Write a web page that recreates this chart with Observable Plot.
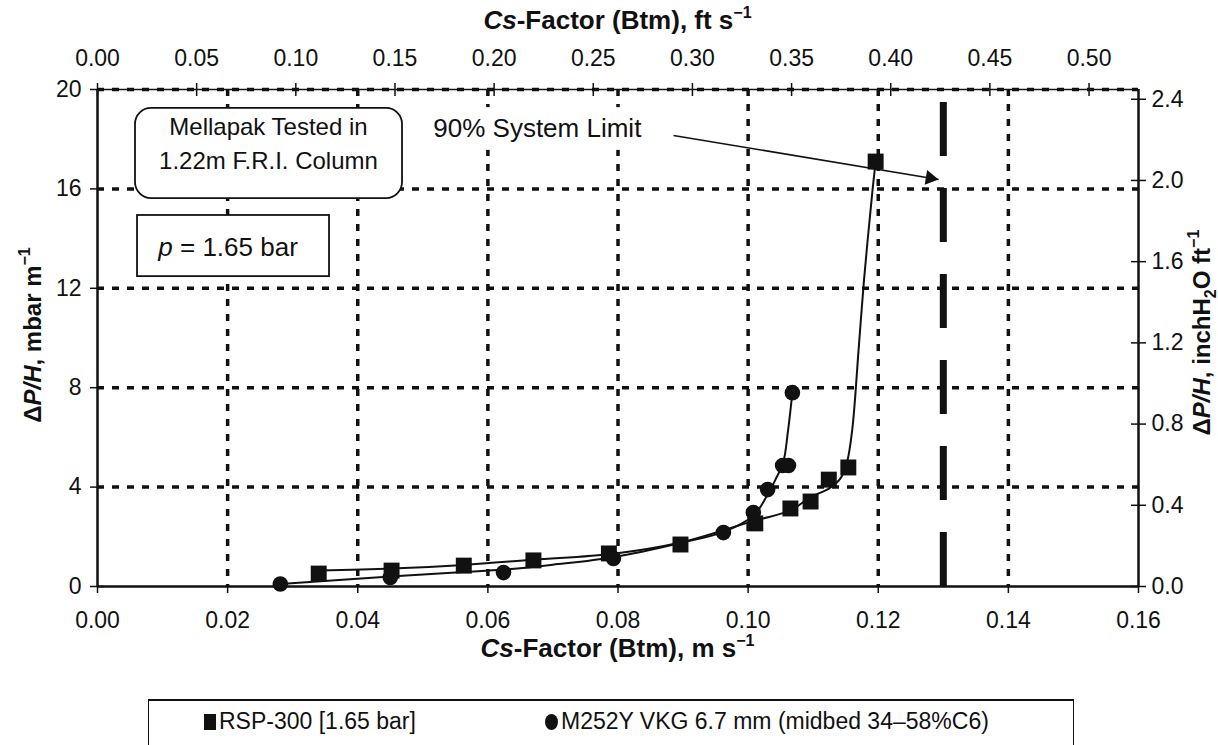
<!DOCTYPE html>
<html>
<head>
<meta charset="utf-8">
<script src="https://cdn.jsdelivr.net/npm/d3@7"></script>
<script src="https://cdn.jsdelivr.net/npm/@observablehq/plot@0.6"></script>
<style>
  body { margin: 0; background: #fff; font-family: "Liberation Sans", Arial, sans-serif; }
  #wrap { position: relative; width: 1218px; height: 745px; overflow: hidden; background: #fff; }
  #legend { position: absolute; left: 148px; top: 699px; width: 926px; height: 70px; box-sizing: border-box;
            border: 1.5px solid #111; border-top-width: 2px; font-size: 23px; color: #111; }
  #legend .item { position: absolute; top: 7px; white-space: nowrap; line-height: 26px; }
  #legend .sw { display: inline-block; background: #111; margin-right: 3px; vertical-align: -1px; }
</style>
</head>
<body>
<div id="wrap">
  <div id="chart"></div>
  <div id="legend"></div>
</div>
<script>
// ---------- data ----------
const xTicks = [0.00, 0.02, 0.04, 0.06, 0.08, 0.10, 0.12, 0.14, 0.16];
const yTicks = [0, 4, 8, 12, 16, 20];
const ftTicks = [0.00, 0.05, 0.10, 0.15, 0.20, 0.25, 0.30, 0.35, 0.40, 0.45, 0.50];
const inTicks = [0.0, 0.4, 0.8, 1.2, 1.6, 2.0, 2.4];
const gridX = [0.02, 0.04, 0.06, 0.08, 0.10, 0.12, 0.14];
const gridY = [4, 8, 12, 16, 20];
const M_PER_FT = 0.3048;          // m s-1 per ft s-1
const INH2O_PER_MBAR = 0.1224;    // inchH2O ft-1 per mbar m-1
const limitCs = [0.13];

const seriesNames = ["RSP-300 [1.65 bar]", "M252Y VKG 6.7 mm (midbed 34\u201358%C6)"];

// RSP-300 measured points
const rspCs = [0.0340, 0.0452, 0.0563, 0.0670, 0.0786, 0.0896, 0.1011, 0.1065, 0.1096, 0.1124, 0.1154, 0.1196];
const rspDP = [0.52, 0.64, 0.84, 1.05, 1.33, 1.69, 2.54, 3.14, 3.42, 4.30, 4.79, 17.1];
// RSP-300 fitted curve
const rspFitCs = [0.0340, 0.0452, 0.0563, 0.0670, 0.0793, 0.0896, 0.1010, 0.1065, 0.1096, 0.1124, 0.1142, 0.1152, 0.1160, 0.1170, 0.1178, 0.1191, 0.1196];
const rspFitDP = [0.64, 0.72, 0.87, 1.08, 1.32, 1.77, 2.65, 3.06, 3.60, 3.94, 4.35, 5.00, 6.30, 9.60, 12.3, 15.9, 17.1];

// M252Y measured points
const m252Cs = [0.0281, 0.0450, 0.0624, 0.0793, 0.0962, 0.1008, 0.1030, 0.1053, 0.1062, 0.1068];
const m252DP = [0.10, 0.36, 0.56, 1.13, 2.17, 2.98, 3.90, 4.87, 4.87, 7.80];
// M252Y fitted curve
const m252FitCs = [0.0281, 0.0450, 0.0563, 0.0624, 0.0700, 0.0793, 0.0896, 0.0962, 0.1008, 0.1030, 0.1042, 0.1054, 0.1061, 0.1068];
const m252FitDP = [0.10, 0.40, 0.58, 0.68, 0.88, 1.18, 1.75, 2.20, 2.85, 3.70, 4.30, 5.00, 6.20, 7.80];

// annotations (data coordinates)
const noteBoxes = [
  {x1: 0.00584, x2: 0.04688, y1: 15.61, y2: 19.24, rx: 16},
  {x1: 0.00615, x2: 0.03566, y1: 12.47, y2: 14.93, rx: 0}
];
const noteTexts = [
  {x: 0.02628, y: 18.47, text: "Mellapak Tested in", size: 24},
  {x: 0.02628, y: 17.12, text: "1.22m F.R.I. Column", size: 24},
  {x: 0.0676, y: 18.43, text: "90% System Limit", size: 26}
];
const limitTextBg = [{x1: 0.0505, x2: 0.0845, y1: 17.55, y2: 19.27}];
const pNote = {x: 0.02014, y: 13.64};
const arrowNote = [{x1: 0.08853, y1: 18.15, x2: 0.12927, y2: 16.38}];

// ---------- build ----------
const FONT = "'Liberation Sans', Arial, sans-serif";
const W = 1218, H = 690, ML = 97, MR = 80, MT = 89, MB = 104;
const plotW = W - ML - MR, plotH = H - MT - MB;

const rspPts = rspCs.map((c, i) => ({cs: c, dp: rspDP[i]}));
const rspFit = rspFitCs.map((c, i) => ({cs: c, dp: rspFitDP[i]}));
const m252Pts = m252Cs.map((c, i) => ({cs: c, dp: m252DP[i]}));
const m252Fit = m252FitCs.map((c, i) => ({cs: c, dp: m252FitDP[i]}));
const ftTicksM = ftTicks.map(v => v * M_PER_FT);
const inTicksMbar = inTicks.map(v => v / INH2O_PER_MBAR);

const a = arrowNote[0];
const angPx = Math.atan2((a.y1 - a.y2) * plotH / 20, (a.x2 - a.x1) * plotW / 0.16);
const triR = 5.5;
const triTip = 2 * Math.sqrt((Math.PI * triR * triR) / (3 * Math.sqrt(3)));

const dash = "7,8";
const TF = 23;
const plot = Plot.plot({
  width: W, height: H,
  marginLeft: ML, marginRight: MR, marginTop: MT, marginBottom: MB,
  x: {domain: [0, 0.16]},
  y: {domain: [0, 20]},
  style: {fontFamily: FONT, fontSize: TF + "px", color: "#111", background: "white"},
  marks: [
    // grid
    Plot.ruleX(gridX, {x: d => d, stroke: "#111", strokeWidth: 3.5, strokeDasharray: dash}),
    Plot.ruleY(gridY, {y: d => d, stroke: "#111", strokeWidth: 3.5, strokeDasharray: dash}),
    // frame
    Plot.ruleX([0, 0.16], {x: d => d, stroke: "#111", strokeWidth: 2.5}),
    Plot.ruleY([0], {y: d => d, stroke: "#111", strokeWidth: 2.5}),
    Plot.ruleY([20], {y: d => d, stroke: "#111", strokeWidth: 1.5}),
    // axes
    Plot.axisX(xTicks, {anchor: "bottom", tickSize: 7, tickPadding: 18, strokeWidth: 1.5, tickFormat: d => d.toFixed(2), label: null, fontSize: TF}),
    Plot.axisX(ftTicksM, {anchor: "top", tickSize: 7, tickPadding: 17, strokeWidth: 1.5, tickFormat: d => (d / M_PER_FT).toFixed(2), label: null, fontSize: TF}),
    Plot.axisY(yTicks, {anchor: "left", tickSize: 7, tickPadding: 9, strokeWidth: 1.5, tickFormat: d => String(d), label: null, fontSize: TF}),
    Plot.axisY(inTicksMbar, {anchor: "right", tickSize: 7, tickPadding: 6, strokeWidth: 1.5, tickFormat: d => (d * INH2O_PER_MBAR).toFixed(1), label: null, fontSize: TF}),
    // inward halves of crossing ticks
    Plot.ruleY(yTicks, {y: d => d, insetRight: plotW - 7, stroke: "#111", strokeWidth: 1.5}),
    Plot.ruleY(inTicksMbar, {y: d => d, insetLeft: plotW - 7, stroke: "#111", strokeWidth: 1.5}),
    Plot.ruleX(ftTicksM, {x: d => d, insetBottom: plotH - 7, stroke: "#111", strokeWidth: 1.5}),
    // 90% system limit
    Plot.ruleX(limitCs, {x: d => d, stroke: "#111", strokeWidth: 7, strokeDasharray: "54,32", strokeDashoffset: -13}),
    // annotation boxes
    Plot.rect(noteBoxes, {x1: "x1", x2: "x2", y1: "y1", y2: "y2", fill: "white", stroke: "#111", strokeWidth: 1.8, rx: 16, filter: d => d.rx > 0}),
    Plot.rect(noteBoxes, {x1: "x1", x2: "x2", y1: "y1", y2: "y2", fill: "white", stroke: "#111", strokeWidth: 1.8, filter: d => d.rx === 0}),
    Plot.rect(limitTextBg, {x1: "x1", x2: "x2", y1: "y1", y2: "y2", fill: "white"}),
    Plot.text(noteTexts.filter(d => d.size === 24), {x: "x", y: "y", text: "text", fontSize: 24, fill: "#111"}),
    Plot.text(noteTexts.filter(d => d.size === 26), {x: "x", y: "y", text: "text", fontSize: 26, fill: "#111"}),
    // fitted curves
    Plot.line(rspFit, {x: "cs", y: "dp", curve: "catmull-rom", stroke: "#111", strokeWidth: 2}),
    Plot.line(m252Fit, {x: "cs", y: "dp", curve: "catmull-rom", stroke: "#111", strokeWidth: 2}),
    // points
    Plot.dot(rspPts, {x: "cs", y: "dp", symbol: "square", r: 9, fill: "#111", stroke: "none"}),
    Plot.dot(m252Pts, {x: "cs", y: "dp", symbol: "circle", r: 7.8, fill: "#111", stroke: "none"}),
    // arrow
    Plot.link(arrowNote, {x1: "x1", y1: "y1", x2: "x2", y2: "y2", stroke: "#111", strokeWidth: 1.6}),
    Plot.dot(arrowNote, {x: "x2", y: "y2", symbol: "triangle", r: triR, fill: "#111", stroke: "none",
      rotate: 90 + angPx * 180 / Math.PI,
      dx: -triTip * Math.cos(angPx), dy: -triTip * Math.sin(angPx)})
  ]
});
document.getElementById("chart").appendChild(plot);

// ---------- rich text titles ----------
const svg = d3.select(plot);
const sx = plot.scale("x"), sy = plot.scale("y");
function richText(transform, parts, size, anchor = "middle", bold = true) {
  const t = svg.append("text")
    .attr("transform", transform)
    .attr("text-anchor", anchor)
    .attr("font-family", FONT)
    .attr("font-size", size)
    .attr("font-weight", bold ? "bold" : "normal")
    .attr("fill", "#111");
  parts.forEach(p => {
    const ts = t.append("tspan").text(p.t);
    if (p.i) ts.attr("font-style", "italic");
    if (p.size) ts.attr("font-size", p.size);
    if (p.dy) ts.attr("dy", p.dy);
  });
  return t;
}
const TS = 26;
richText(`translate(${sx.apply(0.08)},657)`, [
  {t: "Cs", i: true}, {t: "-Factor (Btm), m s"}, {t: "\u22121", size: 16, dy: -11}
], TS);
richText(`translate(${sx.apply(0.08)},29)`, [
  {t: "Cs", i: true}, {t: "-Factor (Btm), ft s"}, {t: "\u22121", size: 16, dy: -11}
], TS);
richText(`translate(41,${sy.apply(10.1)}) rotate(-90)`, [
  {t: "\u0394"}, {t: "P/H", i: true}, {t: ", mbar m"}, {t: "\u22121", size: 16, dy: -11}
], 24);
richText(`translate(1210,${sy.apply(10.2)}) rotate(-90)`, [
  {t: "\u0394"}, {t: "P/H", i: true}, {t: ", inchH"}, {t: "2", size: 16, dy: 6}, {t: "O ft", size: 24, dy: -6}, {t: "\u22121", size: 16, dy: -11}
], 24);
// p = 1.65 bar
richText(`translate(${sx.apply(pNote.x)},${sy.apply(pNote.y) + 9})`, [
  {t: "p", i: true}, {t: " = 1.65 bar"}
], 26, "middle", false);

// ---------- legend ----------
const leg = document.getElementById("legend");
const legendPos = [55, 396];
seriesNames.forEach((name, i) => {
  const item = document.createElement("span");
  item.className = "item";
  item.style.left = legendPos[i] + "px";
  const sw = document.createElement("i");
  sw.className = "sw";
  if (i === 0) { sw.style.width = "12px"; sw.style.height = "16px"; }
  else { sw.style.width = "13px"; sw.style.height = "16px"; sw.style.borderRadius = "50%"; }
  item.appendChild(sw);
  item.appendChild(document.createTextNode(name));
  leg.appendChild(item);
});
</script>
</body>
</html>
